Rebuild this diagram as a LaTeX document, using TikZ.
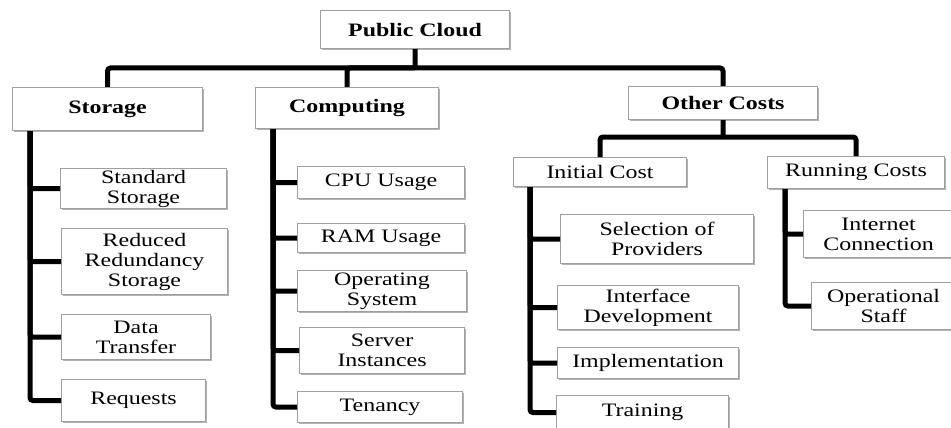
\documentclass[tikz,border=0pt]{standalone}
\usepackage{fontspec}
\setmainfont{Liberation Serif}[FakeStretch=1.26]
\usetikzlibrary{shadows, positioning}

\tikzset{
    box/.style = {draw = gray!75, line width = 1.1pt, fill = white, align = center,
        inner sep = 0pt, anchor = north west, font = \fontsize{19}{20}\selectfont,
        drop shadow = {shadow xshift = 1.5pt, shadow yshift = -1.5pt, fill = black, opacity = .3}},
    head/.style = {box, font = \fontsize{19}{20}\selectfont\bfseries},
    conn/.style = {line width = 5pt, rounded corners = 3pt}
}

\begin{document}
\begin{tikzpicture}[x = 1pt, y = -1pt]
    \useasboundingbox (0,0) rectangle (951,428);
    \clip (0,0) rectangle (951,428);
    % top levels
    \node[head, minimum width = 189pt, minimum height = 38pt] (cloud) at (320,10) {Public Cloud};
    \node[head, minimum width = 190pt, minimum height = 43pt] (storage) at (12,87) {Storage};
    \node[head, minimum width = 183pt, minimum height = 41pt] (computing) at (255,87) {Computing};
    \node[head, minimum width = 189pt, minimum height = 33pt] (other) at (628,86) {Other Costs};
    \node[box, minimum width = 173pt, minimum height = 29pt] (initial) at (513,157) {Initial Cost};
    \node[box, minimum width = 177pt, minimum height = 32pt] (running) at (767,156) {Running Costs};
    \coordinate (bus) at (415,68);
    \coordinate (obus) at (723,137);
    \draw[conn] (cloud.south) -- (bus);
    \draw[conn] (bus) -| (storage.north);
    \draw[conn] (bus) -| (computing.north);
    \draw[conn] (bus) -| (other.north);
    \draw[conn] (other.south) -- (obus);
    \draw[conn] (obus) -| (initial.north);
    \draw[conn] (obus) -| (running.north);
    % storage
    \node[box, minimum width = 166pt, minimum height = 40pt] (std) at (60,168) {Standard\\Storage};
    \node[box, minimum width = 166pt, minimum height = 66pt] (rrs) at (61,228) {Reduced\\Redundancy\\Storage};
    \node[box, minimum width = 149pt, minimum height = 45pt] (dt) at (61,314) {Data\\Transfer};
    \node[box, minimum width = 144pt, minimum height = 42pt] (req) at (61,379) {Requests};
    \foreach \c in {std, rrs, dt, req}
        \draw[conn] ([xshift = 18pt]storage.south west) |- (\c.west);
    % computing
    \node[box, minimum width = 167pt, minimum height = 32pt] (cpu) at (297,166) {CPU Usage};
    \node[box, minimum width = 167pt, minimum height = 29pt] (ram) at (297,223) {RAM Usage};
    \node[box, minimum width = 169pt, minimum height = 41pt] (os) at (297,270) {Operating\\System};
    \node[box, minimum width = 165pt, minimum height = 46pt] (srv) at (299,327) {Server\\Instances};
    \node[box, minimum width = 165pt, minimum height = 31pt] (ten) at (297,391) {Tenancy};
    \foreach \c in {cpu, ram, os, srv, ten}
        \draw[conn] ([xshift = 18pt]computing.south west) |- (\c.west);
    % initial cost
    \node[box, minimum width = 193pt, minimum height = 49pt] (sel) at (560,214) {Selection of\\Providers};
    \node[box, minimum width = 181pt, minimum height = 44pt] (intf) at (557,285) {Interface\\Development};
    \node[box, minimum width = 181pt, minimum height = 31pt] (impl) at (557,347) {Implementation};
    \node[box, minimum width = 172pt, minimum height = 34pt] (train) at (556,395) {Training};
    \foreach \c in {sel, intf, impl, train}
        \draw[conn] ([xshift = 17pt]initial.south west) |- (\c.west);
    % running costs
    \node[box, minimum width = 150pt, minimum height = 47pt] (net) at (803,210) {Internet\\Connection};
    \node[box, minimum width = 144pt, minimum height = 47pt] (staff) at (811,282) {Operational\\Staff};
    \foreach \c in {net, staff}
        \draw[conn] ([xshift = 18pt]running.south west) |- (\c.west);
\end{tikzpicture}
\end{document}
